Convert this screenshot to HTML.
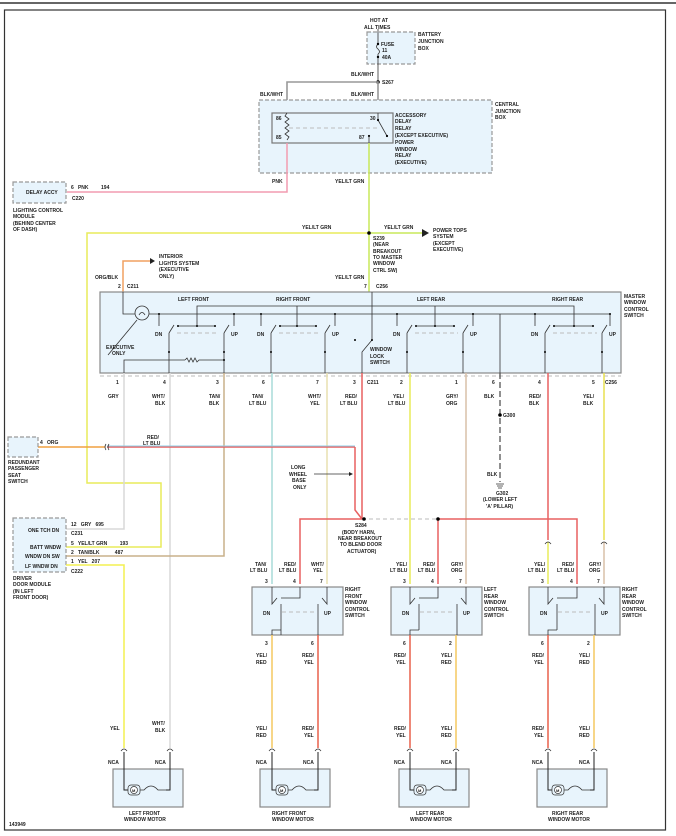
<!DOCTYPE html>
<html><head><meta charset="utf-8"><style>
html,body{margin:0;padding:0;background:#fff;}
svg{display:block;}
text{font-family:"Liberation Sans",sans-serif;font-size:5px;font-weight:bold;fill:#222;}
.bx{fill:#e8f4fc;stroke:#888;stroke-width:1.2;}
.db{fill:#e8f4fc;stroke:#999;stroke-width:1.2;stroke-dasharray:4,2;}
.k{stroke:#333;stroke-width:0.8;fill:none;}
.g{stroke:#999;stroke-width:1.6;fill:none;}
.dash{stroke:#bbb;stroke-width:1;stroke-dasharray:4,3;fill:none;}
</style></head><body>
<svg width="676" height="836" viewBox="0 0 676 836" xmlns="http://www.w3.org/2000/svg">
<line x1="0" y1="3" x2="676" y2="3" stroke="#333" stroke-width="1.5"/>
<rect x="4.5" y="10" width="661" height="820" fill="#fff" stroke="#333" stroke-width="1.2"/>

<!-- Battery junction box -->
<text x="370" y="22">HOT AT</text><text x="364" y="29">ALL TIMES</text>
<rect class="db" x="367" y="32" width="48" height="32"/>
<line class="k" x1="378" y1="29" x2="378" y2="44"/>
<path class="k" d="M378 44 q-3 3 0 5 q3 3 0 5"/>
<line class="k" x1="378" y1="54" x2="378" y2="82"/>
<circle cx="378" cy="44" r="1.2"/><circle cx="378" cy="57" r="1.2"/>
<text x="381" y="46">FUSE</text><text x="382" y="52">11</text><text x="382" y="59">40A</text>
<text x="418" y="36">BATTERY</text><text x="418" y="43">JUNCTION</text><text x="418" y="50">BOX</text>
<text x="351" y="76">BLK/WHT</text>
<circle cx="378" cy="82" r="1.8"/><text x="382" y="84">S267</text>
<polyline class="g" points="287,110 287,82 378,82 378,110"/>
<text x="260" y="96">BLK/WHT</text><text x="351" y="96">BLK/WHT</text>

<!-- Central junction box -->
<rect class="db" x="259" y="100" width="233" height="73"/>
<text x="495" y="106">CENTRAL</text><text x="495" y="113">JUNCTION</text><text x="495" y="119">BOX</text>
<rect x="272" y="113" width="121" height="30" fill="#e8f4fc" stroke="#777" stroke-width="1.2"/>
<path class="k" d="M287 113 l-2 3 l4 3 l-4 3 l4 3 l-4 3 l4 3 l-4 3 l4 3 l-2 3" />
<line class="dash" x1="289" y1="128" x2="378" y2="128"/>
<line class="k" x1="378" y1="113" x2="378" y2="120"/><line class="k" x1="378" y1="120" x2="387" y2="136"/>
<circle cx="378" cy="120" r="1.1"/><circle cx="369" cy="136" r="1.1"/><circle cx="387" cy="136" r="1.1"/>
<line class="k" x1="369" y1="136" x2="369" y2="143"/>
<text x="276" y="120">86</text><text x="276" y="139">85</text><text x="370" y="120">30</text><text x="359" y="139">87</text>
<text x="395" y="117">ACCESSORY</text><text x="395" y="123">DELAY</text><text x="395" y="130">RELAY</text><text x="395" y="137">(EXCEPT EXECUTIVE)</text><text x="395" y="144">POWER</text><text x="395" y="151">WINDOW</text><text x="395" y="157">RELAY</text><text x="395" y="164">(EXECUTIVE)</text>
<text x="272" y="183">PNK</text><text x="335" y="183">YEL/LT GRN</text>
<polyline points="287,143 287,192 67,192" fill="none" stroke="#f29bb0" stroke-width="1.5"/>
<rect class="db" x="13" y="182" width="53" height="21"/>
<text x="26" y="194">DELAY ACCY</text>
<text x="71" y="189">6 &#160; PNK &#160; &#160; &#160; &#160; 194</text><text x="72" y="200">C220</text>
<text x="13" y="212">LIGHTING CONTROL</text><text x="13" y="218">MODULE</text><text x="13" y="225">(BEHIND CENTER</text><text x="13" y="231">OF DASH)</text>

<!-- YEL/LT GRN -->
<line x1="369" y1="143" x2="369" y2="292" stroke="#c8e85a" stroke-width="1.5"/>
<polyline points="369,233 87,233 87,483 161,483 161,547 66,547" fill="none" stroke="#e8ec5a" stroke-width="1.5"/>
<line x1="369" y1="233" x2="422" y2="233" stroke="#c8e85a" stroke-width="1.5"/>
<polygon points="422,229 429,233 422,237" fill="#222"/>
<circle cx="369" cy="233" r="1.8"/>
<text x="302" y="229">YEL/LT GRN</text><text x="384" y="229">YEL/LT GRN</text>
<text x="433" y="232">POWER TOPS</text><text x="433" y="238">SYSTEM</text><text x="433" y="245">(EXCEPT</text><text x="433" y="251">EXECUTIVE)</text>
<text x="373" y="240">S239</text><text x="373" y="246">(NEAR</text><text x="373" y="253">BREAKOUT</text><text x="373" y="259">TO MASTER</text><text x="373" y="265">WINDOW</text><text x="373" y="272">CTRL SW)</text>
<text x="335" y="279">YEL/LT GRN</text>
<polyline points="123,292 123,261 150,261" fill="none" stroke="#f0a060" stroke-width="1.5"/>
<polygon points="150,258 155,261 150,264" fill="#222"/>
<text x="159" y="258">INTERIOR</text><text x="159" y="265">LIGHTS SYSTEM</text><text x="159" y="271">(EXECUTIVE</text><text x="159" y="278">ONLY)</text>
<text x="95" y="279">ORG/BLK</text>
<text x="118" y="288">2</text><text x="127" y="288">C211</text><text x="364" y="288">7</text><text x="376" y="288">C256</text>

<!-- Master switch -->
<rect x="100" y="292" width="521" height="81" fill="#e8f4fc" stroke="#888" stroke-width="1.2"/>
<text x="624" y="298">MASTER</text><text x="624" y="304">WINDOW</text><text x="624" y="311">CONTROL</text><text x="624" y="317">SWITCH</text>
<text x="178" y="301">LEFT FRONT</text><text x="276" y="301">RIGHT FRONT</text><text x="417" y="301">LEFT REAR</text><text x="552" y="301">RIGHT REAR</text>
<polyline class="k" points="123,292 123,314 135,314"/>
<circle cx="142" cy="313" r="7" fill="#e8f4fc" stroke="#333" stroke-width="0.8"/>
<path class="k" d="M139 315 q3 -5 6 0"/>
<line class="k" x1="149" y1="314" x2="610" y2="314"/>
<polyline class="k" points="197,326 197,306 574,306 574,326"/>
<line class="k" x1="297" y1="306" x2="297" y2="326"/><line class="k" x1="435" y1="306" x2="435" y2="326"/>
<line class="k" x1="108" y1="355" x2="137" y2="320"/>
<text x="106" y="349">EXECUTIVE</text><text x="112" y="355">ONLY</text>
<g id="ch">
</g>
<!-- channels -->
<g>
<line class="k" x1="159" y1="314" x2="159" y2="326"/><line class="k" x1="169" y1="333" x2="174" y2="325"/><line class="k" x1="169" y1="333" x2="169" y2="373"/>
<line class="k" x1="178" y1="326" x2="215" y2="326"/>
<line class="k" x1="234" y1="314" x2="234" y2="326"/><line class="k" x1="224" y1="333" x2="229" y2="325"/><line class="k" x1="224" y1="333" x2="224" y2="373"/>
<line class="dash" x1="177" y1="333" x2="219" y2="333"/>
<text x="155" y="336">DN</text><text x="231" y="336">UP</text>
<circle cx="169" cy="352" r="1"/><circle cx="224" cy="352" r="1"/><circle cx="178" cy="326" r="1"/><circle cx="197" cy="326" r="1"/><circle cx="215" cy="326" r="1"/><circle cx="159" cy="314" r="1"/><circle cx="234" cy="314" r="1"/>
<polyline class="k" points="124,373 124,360 185,360"/><path class="k" d="M185 360 l2 -2 l2 4 l2 -4 l2 4 l2 -4 l2 4 l2 -2 L224 360"/><circle cx="224" cy="360" r="1"/>
</g>
<g>
<line class="k" x1="261" y1="314" x2="261" y2="326"/><line class="k" x1="271" y1="333" x2="276" y2="325"/><line class="k" x1="271" y1="333" x2="271" y2="373"/>
<line class="k" x1="280" y1="326" x2="316" y2="326"/>
<line class="k" x1="335" y1="314" x2="335" y2="326"/><line class="k" x1="325" y1="333" x2="330" y2="325"/><line class="k" x1="325" y1="333" x2="325" y2="373"/>
<line class="dash" x1="279" y1="333" x2="320" y2="333"/>
<text x="257" y="336">DN</text><text x="332" y="336">UP</text>
<circle cx="271" cy="352" r="1"/><circle cx="325" cy="352" r="1"/><circle cx="280" cy="326" r="1"/><circle cx="297" cy="326" r="1"/><circle cx="316" cy="326" r="1"/><circle cx="261" cy="314" r="1"/><circle cx="335" cy="314" r="1"/>
</g>
<g>
<line class="k" x1="397" y1="314" x2="397" y2="326"/><line class="k" x1="407" y1="333" x2="412" y2="325"/><line class="k" x1="407" y1="333" x2="407" y2="373"/>
<line class="k" x1="416" y1="326" x2="454" y2="326"/>
<line class="k" x1="473" y1="314" x2="473" y2="326"/><line class="k" x1="463" y1="333" x2="468" y2="325"/><line class="k" x1="463" y1="333" x2="463" y2="373"/>
<line class="dash" x1="415" y1="333" x2="458" y2="333"/>
<text x="393" y="336">DN</text><text x="470" y="336">UP</text>
<circle cx="407" cy="352" r="1"/><circle cx="463" cy="352" r="1"/><circle cx="416" cy="326" r="1"/><circle cx="435" cy="326" r="1"/><circle cx="454" cy="326" r="1"/><circle cx="397" cy="314" r="1"/><circle cx="473" cy="314" r="1"/>
</g>
<g>
<line class="k" x1="535" y1="314" x2="535" y2="326"/><line class="k" x1="545" y1="333" x2="550" y2="325"/><line class="k" x1="545" y1="333" x2="545" y2="373"/>
<line class="k" x1="554" y1="326" x2="593" y2="326"/>
<line class="k" x1="610" y1="314" x2="610" y2="326"/><line class="k" x1="602" y1="333" x2="607" y2="325"/><line class="k" x1="602" y1="333" x2="602" y2="373"/>
<line class="dash" x1="553" y1="333" x2="597" y2="333"/>
<text x="531" y="336">DN</text><text x="609" y="336">UP</text>
<circle cx="545" cy="352" r="1"/><circle cx="602" cy="352" r="1"/><circle cx="554" cy="326" r="1"/><circle cx="574" cy="326" r="1"/><circle cx="593" cy="326" r="1"/><circle cx="535" cy="314" r="1"/><circle cx="610" cy="314" r="1"/>
</g>
<line class="k" x1="500" y1="314" x2="500" y2="373"/>
<polyline class="k" points="372,292 372,340 362,352 362,373"/><circle cx="355" cy="340" r="1"/><circle cx="372" cy="340" r="1"/>
<text x="370" y="351">WINDOW</text><text x="370" y="358">LOCK</text><text x="370" y="364">SWITCH</text>
<line class="dash" x1="100" y1="376" x2="621" y2="376"/>
<text x="116" y="384">1</text><text x="163" y="384">4</text><text x="216" y="384">3</text><text x="262" y="384">6</text><text x="316" y="384">7</text><text x="353" y="384">3</text><text x="367" y="384">C211</text><text x="400" y="384">2</text><text x="455" y="384">1</text><text x="492" y="384">6</text><text x="538" y="384">4</text><text x="592" y="384">5</text><text x="605" y="384">C256</text>
<text x="108" y="398">GRY</text>
<text x="152" y="398">WHT/</text><text x="155" y="405">BLK</text>
<text x="209" y="398">TAN/</text><text x="209" y="405">BLK</text>
<text x="252" y="398">TAN/</text><text x="249" y="405">LT BLU</text>
<text x="308" y="398">WHT/</text><text x="310" y="405">YEL</text>
<text x="345" y="398">RED/</text><text x="340" y="405">LT BLU</text>
<text x="393" y="398">YEL/</text><text x="388" y="405">LT BLU</text>
<text x="446" y="398">GRY/</text><text x="446" y="405">ORG</text>
<text x="484" y="398">BLK</text>
<text x="529" y="398">RED/</text><text x="529" y="405">BLK</text>
<text x="583" y="398">YEL/</text><text x="583" y="405">BLK</text>

<!-- wires below master -->
<polyline points="124,373 124,529 66,529" fill="none" stroke="#d8d8d8" stroke-width="1.5"/>
<line x1="170" y1="373" x2="170" y2="748" stroke="#d8d8d8" stroke-width="1.5"/>
<polyline points="224,373 224,556 66,556" fill="none" stroke="#c8b08a" stroke-width="1.5"/>
<line x1="272" y1="373" x2="272" y2="584" stroke="#a8dcd8" stroke-width="1.5"/>
<line x1="327" y1="373" x2="327" y2="584" stroke="#e8e0b0" stroke-width="1.5"/>
<polyline points="362,373 362,519" fill="none" stroke="#e86060" stroke-width="1.5"/>
<polyline points="355,447 355,510 362,519" fill="none" stroke="#e86060" stroke-width="1.5"/>
<line x1="355" y1="447" x2="107" y2="447" stroke="#e86060" stroke-width="1.5"/>
<line x1="355" y1="446" x2="107" y2="446" stroke="#8fd0e8" stroke-width="1"/>
<line x1="38" y1="447" x2="105" y2="447" stroke="#f0a040" stroke-width="1.5"/>
<line x1="410" y1="373" x2="410" y2="584" stroke="#e8ec5a" stroke-width="1.5"/>
<line x1="466" y1="373" x2="466" y2="584" stroke="#d8c0a8" stroke-width="1.5"/>
<line x1="500" y1="373" x2="500" y2="482" stroke="#555" stroke-width="1.3" stroke-dasharray="6,3"/>
<circle cx="500" cy="415" r="1.8"/><text x="503" y="417">G300</text>
<text x="487" y="476">BLK</text>
<path d="M496 484 h8 M497 486 h6 M498 488 h4" stroke="#333" stroke-width="0.8"/>
<text x="496" y="495">G302</text><text x="483" y="501">(LOWER LEFT</text><text x="486" y="508">'A' PILLAR)</text>
<polyline points="548,373 548,540" fill="none" stroke="#e86060" stroke-width="1.5"/>
<line x1="548" y1="542" x2="548" y2="584" stroke="#e8ec5a" stroke-width="1.5"/>
<polyline points="604,373 604,540" fill="none" stroke="#e8e050" stroke-width="1.5"/>
<line x1="604" y1="542" x2="604" y2="584" stroke="#d8c0a8" stroke-width="1.5"/>
<path class="k" d="M545 544 q3 -4 6 0 M601 544 q3 -4 6 0"/>
<!-- S284 -->
<polyline points="300,584 300,519 362,519" fill="none" stroke="#e86060" stroke-width="1.5"/>
<line class="dash" x1="362" y1="519" x2="438" y2="519"/>
<polyline points="438,584 438,519 577,519 577,584" fill="none" stroke="#e86060" stroke-width="1.5"/>
<circle cx="364" cy="519" r="1.8"/><circle cx="438" cy="519" r="1.8"/>
<text x="355" y="527">S284</text><text x="342" y="534">(BODY HARN,</text><text x="338" y="540">NEAR BREAKOUT</text><text x="340" y="546">TO BLEND DOOR</text><text x="347" y="553">ACTUATOR)</text>
<text x="291" y="469">LONG</text><text x="289" y="476">WHEEL</text><text x="292" y="482">BASE</text><text x="293" y="489">ONLY</text>
<line class="k" x1="314" y1="474" x2="350" y2="474"/><polygon points="349,472 353,474 349,476" fill="#222"/>
<path class="k" d="M106 444 q-2 3 0 6 M109 444 q-2 3 0 6"/>
<text x="40" y="444">4 &#160; ORG</text>
<text x="147" y="439">RED/</text><text x="143" y="445">LT BLU</text>
<rect class="db" x="8" y="437" width="30" height="20"/>
<text x="8" y="464">REDUNDANT</text><text x="8" y="470">PASSENGER</text><text x="8" y="477">SEAT</text><text x="8" y="483">SWITCH</text>

<!-- Driver door module -->
<rect class="db" x="13" y="518" width="53" height="54"/>
<text x="28" y="532">ONE TCH DN</text><text x="30" y="549">BATT WNDW</text><text x="25" y="558">WNDW DN SW</text><text x="25" y="568">LF WNDW DN</text>
<text x="71" y="526">12 &#160; GRY &#160; 695</text><text x="71" y="535">C231</text>
<text x="71" y="545">5 &#160; YEL/LT GRN &#160; &#160; &#160; &#160; 193</text>
<text x="71" y="554">2 &#160; TAN/BLK &#160; &#160; &#160; &#160; &#160; 487</text>
<text x="71" y="563">1 &#160; YEL &#160; 207</text><text x="71" y="573">C222</text>
<polyline points="66,565 124,565 124,748" fill="none" stroke="#f4f050" stroke-width="1.5"/>
<text x="13" y="580">DRIVER</text><text x="13" y="586">DOOR MODULE</text><text x="13" y="593">(IN LEFT</text><text x="13" y="599">FRONT DOOR)</text>

<!-- door switches -->
<g>
<rect class="bx" x="252" y="587" width="91" height="48"/>
<text x="255" y="566">TAN/</text><text x="250" y="572">LT BLU</text><text x="284" y="566">RED/</text><text x="279" y="572">LT BLU</text><text x="311" y="566">WHT/</text><text x="313" y="572">YEL</text>
<text x="265" y="583">3</text><text x="293" y="583">4</text><text x="320" y="583">7</text>
<text x="345" y="591">RIGHT</text><text x="345" y="598">FRONT</text><text x="345" y="604">WINDOW</text><text x="345" y="611">CONTROL</text><text x="345" y="617">SWITCH</text>
<polyline class="k" points="272,587 272,604 277,598"/><polyline class="k" points="327,587 327,604 322,598"/>
<polyline class="k" points="300,587 300,598 281,598 M300 598 L318 598"/>
<line class="k" x1="281" y1="604" x2="281" y2="635"/><line class="k" x1="318" y1="604" x2="318" y2="635"/>
<line class="dash" x1="282" y1="612" x2="316" y2="612"/>
<text x="263" y="615">DN</text><text x="324" y="615">UP</text>
<polyline class="k" points="281,630 272,630 272,635"/>
</g>
<g>
<rect class="bx" x="391" y="587" width="91" height="48"/>
<text x="396" y="566">YEL/</text><text x="390" y="572">LT BLU</text><text x="423" y="566">RED/</text><text x="418" y="572">LT BLU</text><text x="451" y="566">GRY/</text><text x="451" y="572">ORG</text>
<text x="403" y="583">3</text><text x="431" y="583">4</text><text x="459" y="583">7</text>
<text x="484" y="591">LEFT</text><text x="484" y="598">REAR</text><text x="484" y="604">WINDOW</text><text x="484" y="611">CONTROL</text><text x="484" y="617">SWITCH</text>
<polyline class="k" points="410,587 410,604 415,598"/><polyline class="k" points="466,587 466,604 461,598"/>
<polyline class="k" points="438,587 438,598 419,598 M438 598 L457 598"/>
<line class="k" x1="419" y1="604" x2="419" y2="630"/><line class="k" x1="457" y1="604" x2="457" y2="635"/>
<line class="dash" x1="420" y1="612" x2="455" y2="612"/>
<text x="402" y="615">DN</text><text x="463" y="615">UP</text>
<polyline class="k" points="419,630 410,630 410,635"/>
</g>
<g>
<rect class="bx" x="529" y="587" width="91" height="48"/>
<text x="534" y="566">YEL/</text><text x="528" y="572">LT BLU</text><text x="562" y="566">RED/</text><text x="557" y="572">LT BLU</text><text x="589" y="566">GRY/</text><text x="589" y="572">ORG</text>
<text x="541" y="583">3</text><text x="570" y="583">4</text><text x="597" y="583">7</text>
<text x="622" y="591">RIGHT</text><text x="622" y="598">REAR</text><text x="622" y="604">WINDOW</text><text x="622" y="611">CONTROL</text><text x="622" y="617">SWITCH</text>
<polyline class="k" points="548,587 548,604 553,598"/><polyline class="k" points="604,587 604,604 599,598"/>
<polyline class="k" points="577,587 577,598 557,598 M577 598 L595 598"/>
<line class="k" x1="557" y1="604" x2="557" y2="630"/><line class="k" x1="595" y1="604" x2="595" y2="635"/>
<line class="dash" x1="558" y1="612" x2="593" y2="612"/>
<text x="540" y="615">DN</text><text x="601" y="615">UP</text>
<polyline class="k" points="557,630 548,630 548,635"/>
</g>

<!-- wires to motors -->
<line x1="272" y1="635" x2="272" y2="748" stroke="#f4c860" stroke-width="1.5"/>
<line x1="318" y1="635" x2="318" y2="748" stroke="#e8604a" stroke-width="1.5"/>
<line x1="410" y1="635" x2="410" y2="748" stroke="#e8604a" stroke-width="1.5"/>
<line x1="456" y1="635" x2="456" y2="748" stroke="#f4c860" stroke-width="1.5"/>
<line x1="548" y1="635" x2="548" y2="748" stroke="#e8604a" stroke-width="1.5"/>
<line x1="594" y1="635" x2="594" y2="748" stroke="#f4c860" stroke-width="1.5"/>
<text x="265" y="645">3</text><text x="311" y="645">6</text><text x="403" y="645">6</text><text x="449" y="645">2</text><text x="541" y="645">6</text><text x="587" y="645">2</text>
<text x="256" y="657">YEL/</text><text x="256" y="664">RED</text><text x="302" y="657">RED/</text><text x="304" y="664">YEL</text>
<text x="394" y="657">RED/</text><text x="396" y="664">YEL</text><text x="441" y="657">YEL/</text><text x="441" y="664">RED</text>
<text x="532" y="657">RED/</text><text x="534" y="664">YEL</text><text x="579" y="657">YEL/</text><text x="579" y="664">RED</text>
<text x="110" y="730">YEL</text><text x="152" y="725">WHT/</text><text x="155" y="732">BLK</text>
<text x="256" y="730">YEL/</text><text x="256" y="737">RED</text><text x="302" y="730">RED/</text><text x="304" y="737">YEL</text>
<text x="394" y="730">RED/</text><text x="396" y="737">YEL</text><text x="441" y="730">YEL/</text><text x="441" y="737">RED</text>
<text x="532" y="730">RED/</text><text x="534" y="737">YEL</text><text x="579" y="730">YEL/</text><text x="579" y="737">RED</text>

<g id="motors">
<g>
<rect class="bx" x="113" y="769" width="70" height="38"/>
<path class="k" d="M121 751 q3 -4 6 0 M167 751 q3 -4 6 0"/>
<polyline points="124,752 124,790 128,790" fill="none" stroke="#222" stroke-width="1"/>
<polyline points="170,752 170,790 166,790" fill="none" stroke="#222" stroke-width="1"/>
<rect x="128" y="785" width="12" height="10" rx="3" fill="none" stroke="#333" stroke-width="0.7"/>
<circle cx="134" cy="790" r="3.5" fill="#fff" stroke="#333" stroke-width="0.7"/><text x="132" y="792" style="font-size:4px">M</text>
<path class="k" d="M140 790 h4 q7 -8 14 0 h8"/>
<text x="108" y="764">NCA</text><text x="155" y="764">NCA</text>
<text x="129" y="815">LEFT FRONT</text><text x="124" y="821">WINDOW MOTOR</text>
</g>
<g transform="translate(148,0)">
<rect class="bx" x="112" y="769" width="70" height="38"/>
<path class="k" d="M121 751 q3 -4 6 0 M167 751 q3 -4 6 0"/>
<polyline points="124,752 124,790 128,790" fill="none" stroke="#222" stroke-width="1"/>
<polyline points="170,752 170,790 166,790" fill="none" stroke="#222" stroke-width="1"/>
<rect x="128" y="785" width="12" height="10" rx="3" fill="none" stroke="#333" stroke-width="0.7"/>
<circle cx="134" cy="790" r="3.5" fill="#fff" stroke="#333" stroke-width="0.7"/><text x="132" y="792" style="font-size:4px">M</text>
<path class="k" d="M140 790 h4 q7 -8 14 0 h8"/>
<text x="108" y="764">NCA</text><text x="155" y="764">NCA</text>
<text x="124" y="815">RIGHT FRONT</text><text x="124" y="821">WINDOW MOTOR</text>
</g>
<g transform="translate(286,0)">
<rect class="bx" x="113" y="769" width="70" height="38"/>
<path class="k" d="M121 751 q3 -4 6 0 M167 751 q3 -4 6 0"/>
<polyline points="124,752 124,790 128,790" fill="none" stroke="#222" stroke-width="1"/>
<polyline points="170,752 170,790 166,790" fill="none" stroke="#222" stroke-width="1"/>
<rect x="128" y="785" width="12" height="10" rx="3" fill="none" stroke="#333" stroke-width="0.7"/>
<circle cx="134" cy="790" r="3.5" fill="#fff" stroke="#333" stroke-width="0.7"/><text x="132" y="792" style="font-size:4px">M</text>
<path class="k" d="M140 790 h4 q7 -8 14 0 h8"/>
<text x="108" y="764">NCA</text><text x="155" y="764">NCA</text>
<text x="130" y="815">LEFT REAR</text><text x="124" y="821">WINDOW MOTOR</text>
</g>
<g transform="translate(424,0)">
<rect class="bx" x="113" y="769" width="70" height="38"/>
<path class="k" d="M121 751 q3 -4 6 0 M167 751 q3 -4 6 0"/>
<polyline points="124,752 124,790 128,790" fill="none" stroke="#222" stroke-width="1"/>
<polyline points="170,752 170,790 166,790" fill="none" stroke="#222" stroke-width="1"/>
<rect x="128" y="785" width="12" height="10" rx="3" fill="none" stroke="#333" stroke-width="0.7"/>
<circle cx="134" cy="790" r="3.5" fill="#fff" stroke="#333" stroke-width="0.7"/><text x="132" y="792" style="font-size:4px">M</text>
<path class="k" d="M140 790 h4 q7 -8 14 0 h8"/>
<text x="108" y="764">NCA</text><text x="155" y="764">NCA</text>
<text x="128" y="815">RIGHT REAR</text><text x="124" y="821">WINDOW MOTOR</text>
</g>
</g>
<text x="9" y="826">143949</text>
</svg>
</body></html>
